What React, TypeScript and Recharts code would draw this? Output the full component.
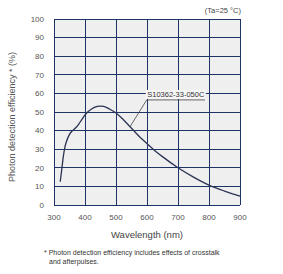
import { LineChart, Line, XAxis, YAxis, CartesianGrid, ReferenceLine, ReferenceDot, Label } from 'recharts';

const wavelengths = [320, 325, 330, 335, 340, 350, 360, 370, 380, 390, 400, 420, 440, 450, 460, 480, 500, 520, 540, 560, 580, 600, 620, 650, 700, 750, 800, 850, 900];
const efficiency = [12.5, 19, 26, 31, 34, 38, 40, 41.5, 43.5, 46, 48.5, 51.5, 53, 53.2, 53, 51.5, 49.5, 46.5, 43, 39.5, 36, 33, 30, 26, 20, 15, 10.7, 7.5, 4.8];
const xTicks = [300, 400, 500, 600, 700, 800, 900];
const yTicks = [0, 10, 20, 30, 40, 50, 60, 70, 80, 90, 100];
const seriesName = 'S10362-33-050C';

const data = wavelengths.map((w, i) => ({ wl: w, pde: efficiency[i] }));

const NAVY = '#1f3466';
const FONT = '"Liberation Sans", Arial, sans-serif';

// name tag above the underline, on a light box so the grid line hides behind it
function NameTag(props: any) {
  const { viewBox } = props;
  const cx = viewBox.x + (viewBox.width || 0) / 2;
  const cy = viewBox.y + (viewBox.height || 0) / 2;
  return (
    <g>
      <rect x={cx - 30} y={cy - 10} width={60} height={9} fill="#f6f6f6" />
      <text x={cx} y={cy - 3} textAnchor="middle" fontSize={7.5} fill="#333" fontFamily={FONT}>
        {seriesName}
      </text>
    </g>
  );
}

export default function App() {
  return (
    <div style={{ position: 'absolute', left: 0, top: 0, width: 283, height: 274, background: '#fff', fontFamily: FONT }}>
      <LineChart width={283} height={274} data={data} margin={{ top: 19, right: 43, bottom: 0, left: 0 }}>
        <CartesianGrid stroke={NAVY} strokeWidth={1} fill="#efefef" fillOpacity={1} shapeRendering="crispEdges" />
        <XAxis
          dataKey="wl"
          type="number"
          domain={[300, 900]}
          ticks={xTicks}
          height={69}
          axisLine={false}
          tickLine={false}
          tickMargin={3}
          tick={{ fontSize: 8, fill: '#555', fontFamily: FONT }}
        >
          <Label value="Wavelength (nm)" position="insideTop" offset={26} style={{ fontSize: 9.5, fill: '#444', fontFamily: FONT }} />
        </XAxis>
        <YAxis
          type="number"
          domain={[0, 100]}
          ticks={yTicks}
          width={54}
          axisLine={false}
          tickLine={false}
          tickMargin={4}
          tick={{ fontSize: 8, fill: '#555', fontFamily: FONT }}
        >
          <Label
            value="Photon detection efficiency * (%)"
            angle={-90}
            position="insideLeft"
            offset={12}
            dy={5}
            style={{ textAnchor: 'middle', fontSize: 9, fill: '#555', fontFamily: FONT }}
          />
        </YAxis>
        {xTicks.map((t) => (
          <ReferenceLine key={`x${t}`} x={t} stroke={NAVY} strokeWidth={1} shapeRendering="crispEdges" />
        ))}
        {yTicks.map((t) => (
          <ReferenceLine key={`y${t}`} y={t} stroke={NAVY} strokeWidth={1} shapeRendering="crispEdges" />
        ))}
        <ReferenceDot x={693} y={56.5} r={0} fill="none" stroke="none" label={<NameTag />} />
        <Line type="monotone" dataKey="pde" stroke="#2b3353" strokeWidth={1.3} dot={false} isAnimationActive={false} />
        <ReferenceLine segment={[{ x: 545, y: 42 }, { x: 599, y: 56.5 }]} stroke="#444" strokeWidth={0.8} />
        <ReferenceLine segment={[{ x: 599, y: 56.5 }, { x: 787, y: 56.5 }]} stroke="#444" strokeWidth={0.8} />
      </LineChart>
      <div style={{ position: 'absolute', right: 42, top: 6, fontSize: 7.5, color: '#444' }}>(Ta=25 °C)</div>
      <div style={{ position: 'absolute', left: 44, top: 248, fontSize: 7, color: '#333', lineHeight: '9px' }}>
        <span>* </span>Photon detection efficiency includes effects of crosstalk
        <br />
        <span style={{ paddingLeft: 5 }}>and afterpulses.</span>
      </div>
    </div>
  );
}
